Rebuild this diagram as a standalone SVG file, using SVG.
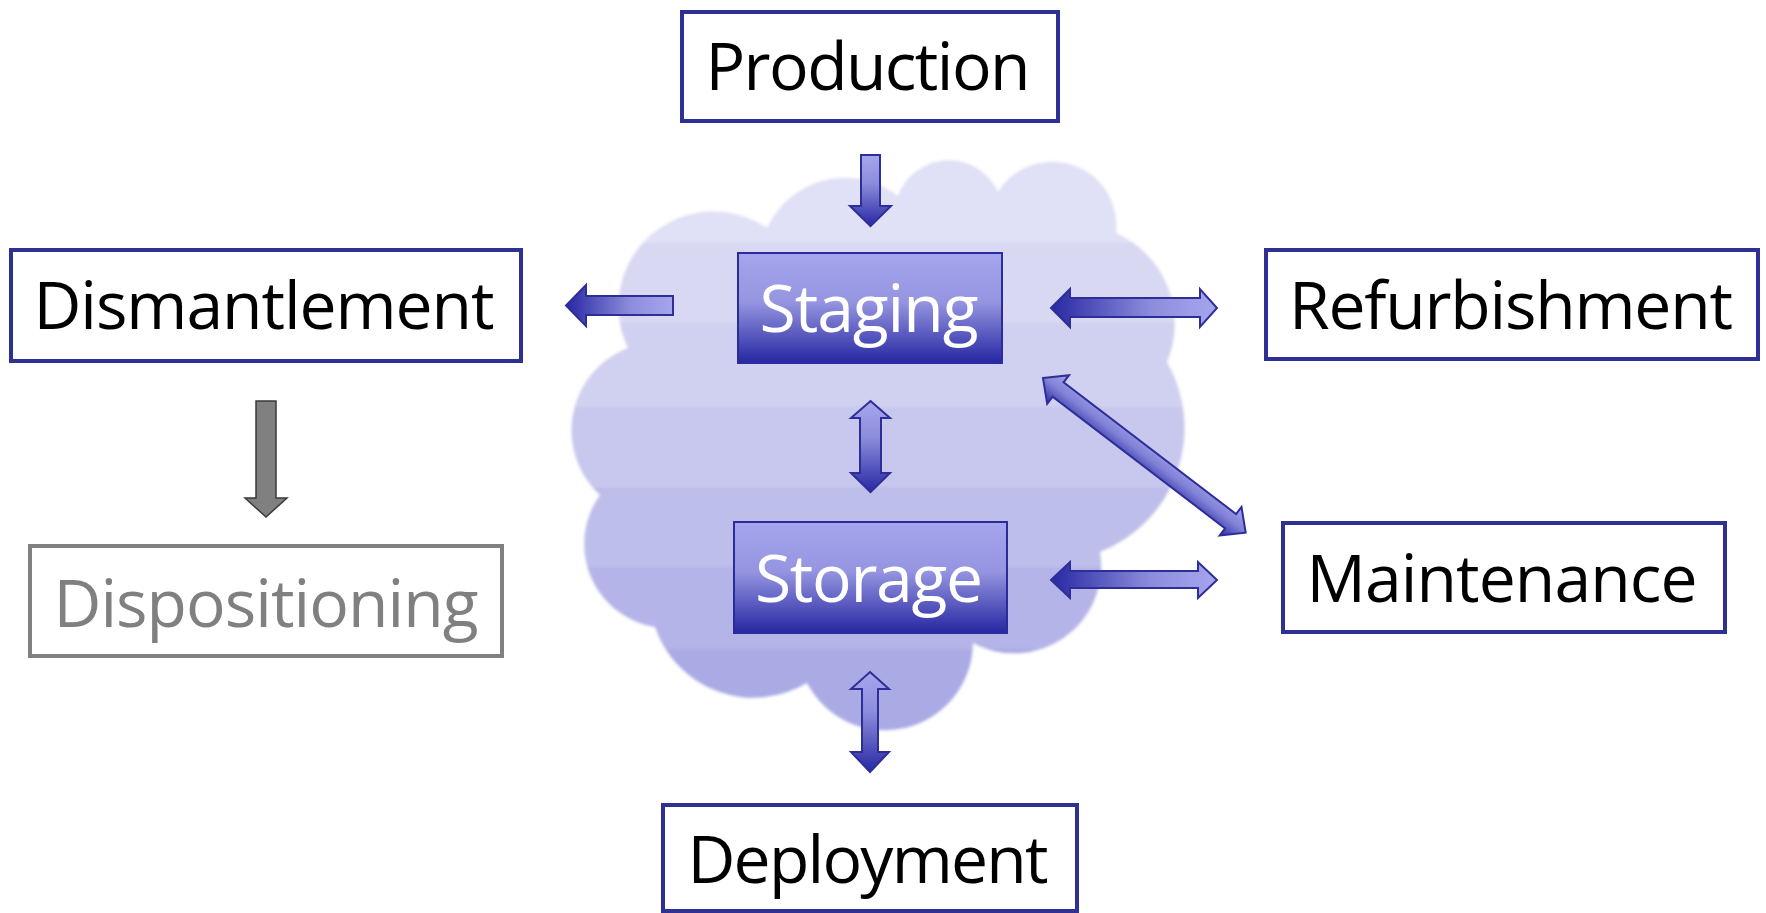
<svg xmlns="http://www.w3.org/2000/svg" width="1766" height="913" viewBox="0 0 1766 913">
<defs>
<linearGradient id="cloudGrad" gradientUnits="userSpaceOnUse" x1="0" y1="162" x2="0" y2="728">
<stop offset="0" stop-color="#e0e0f6"/><stop offset="0.143" stop-color="#e0e0f6"/>
<stop offset="0.143" stop-color="#d8d8f3"/><stop offset="0.285" stop-color="#d8d8f3"/>
<stop offset="0.285" stop-color="#d0d0f0"/><stop offset="0.432" stop-color="#d0d0f0"/>
<stop offset="0.432" stop-color="#c8c8ee"/><stop offset="0.574" stop-color="#c8c8ee"/>
<stop offset="0.574" stop-color="#bebeea"/><stop offset="0.716" stop-color="#bebeea"/>
<stop offset="0.716" stop-color="#b4b4e8"/><stop offset="0.86" stop-color="#b4b4e8"/>
<stop offset="0.86" stop-color="#aaaae5"/><stop offset="1" stop-color="#aaaae5"/>
</linearGradient>
<linearGradient id="boxGrad" x1="0" y1="0" x2="0" y2="1">
<stop offset="0" stop-color="#a6a6ee"/><stop offset="0.45" stop-color="#9494e0"/><stop offset="1" stop-color="#2626a2"/>
</linearGradient>
<linearGradient id="gradV" x1="0" y1="0" x2="0" y2="1">
<stop offset="0" stop-color="#a6a6ee"/><stop offset="0.4" stop-color="#8c8cdc"/><stop offset="1" stop-color="#2828a4"/>
</linearGradient>
<linearGradient id="gradH" x1="0" y1="0" x2="1" y2="0">
<stop offset="0" stop-color="#2828a4"/><stop offset="0.6" stop-color="#8c8cdc"/><stop offset="1" stop-color="#a6a6ee"/>
</linearGradient>
<linearGradient id="gradD" x1="0" y1="0" x2="0" y2="1">
<stop offset="0" stop-color="#a6a6ee"/><stop offset="0.5" stop-color="#8080d6"/><stop offset="1" stop-color="#2c2ca6"/>
</linearGradient>
<filter id="soft" x="-5%" y="-5%" width="110%" height="110%"><feGaussianBlur stdDeviation="1.5"/></filter>
<style>
.box{fill:#ffffff;stroke:#2e3192;stroke-width:4}
.gbox{fill:#ffffff;stroke:#808080;stroke-width:4}
.lbl{font-family:"Open Sans","Liberation Sans",sans-serif;font-size:66px;fill:#000000;text-anchor:middle}
.wlbl{fill:#ffffff}
.glbl{fill:#808080}
.inner{fill:url(#boxGrad);stroke:#2b2b9c;stroke-width:2}
.arr{stroke:#2e2e98;stroke-width:2;stroke-linejoin:miter}
</style>
</defs>
<rect width="1766" height="913" fill="#ffffff"/>
<path id="cloud" d="M628,348 A95 95 0 0 1 767,228 A86 86 0 0 1 898,196 A54 54 0 0 1 998,192 A64 64 0 0 1 1116,233 A99 99 0 0 1 1167,362 A133 133 0 0 1 1100,552 A87 87 0 0 1 973,643 A88 88 0 0 1 807,683 A104 104 0 0 1 655,627 A84 84 0 0 1 600,495 A88 88 0 0 1 628,348 Z" fill="url(#cloudGrad)" filter="url(#soft)"/>
<g id="connectors">
<path id="c-prod-stag" class="arr" fill="url(#gradV)" d="M861,155 H880 V206 H891 L870.5,226 L850,206 H861 Z"/>
<path id="c-stag-dism" class="arr" fill="url(#gradH)" d="M673,296 V315 H586 V326 L566,305.5 L586,285 V296 Z"/>
<path id="c-stag-refu" class="arr" fill="url(#gradH)" d="M1051,308 L1070,289 V298 H1200 V289 L1217,308 L1200,327 V317 H1070 V327 Z"/>
<path id="c-stag-stor" class="arr" fill="url(#gradV)" d="M870.5,401 L890,418 H881 V473 H890 L870.5,492 L851,473 H860 V418 H851 Z"/>
<path id="c-stag-main" class="arr" fill="url(#gradD)" transform="translate(1043,378) rotate(37.36)" d="M0,0 L19,-18 V-9 H236 V-18 L255,0 L236,18 V9 H19 V18 Z"/>
<path id="c-stor-main" class="arr" fill="url(#gradH)" d="M1051,580 L1070,562 V571 H1198 V562 L1217,580 L1198,598 V588 H1070 V598 Z"/>
<path id="c-stor-depl" class="arr" fill="url(#gradV)" d="M870,672 L889,689 H878 V752 H889 L870,772 L851,752 H862 V689 H851 Z"/>
<path id="c-dism-disp" fill="#808080" stroke="#3a3a3a" stroke-width="1.5" d="M256,401 H276 V498 H287 L266,517 L245,498 H256 Z"/>
</g>
<g id="production"><rect class="box" x="682" y="12" width="376" height="109"/><text class="lbl" x="868" y="90" textLength="325">Production</text></g>
<g id="staging"><rect class="inner" x="738" y="253" width="264" height="110"/><text class="lbl wlbl" x="869" y="332" textLength="219">Staging</text></g>
<g id="storage"><rect class="inner" x="734" y="522" width="273" height="111"/><text class="lbl wlbl" x="869" y="602" textLength="228">Storage</text></g>
<g id="dismantlement"><rect class="box" x="11" y="250" width="510" height="111"/><text class="lbl" x="264" y="329" textLength="461">Dismantlement</text></g>
<g id="dispositioning"><rect class="gbox" x="30" y="546" width="472" height="110"/><text class="lbl glbl" x="266" y="627" textLength="425">Dispositioning</text></g>
<g id="refurbishment"><rect class="box" x="1266" y="250" width="492" height="109"/><text class="lbl" x="1511" y="329" textLength="444">Refurbishment</text></g>
<g id="maintenance"><rect class="box" x="1283" y="523" width="442" height="109"/><text class="lbl" x="1502" y="602" textLength="391">Maintenance</text></g>
<g id="deployment"><rect class="box" x="663" y="805" width="414" height="106"/><text class="lbl" x="868" y="883" textLength="361">Deployment</text></g>
</svg>
